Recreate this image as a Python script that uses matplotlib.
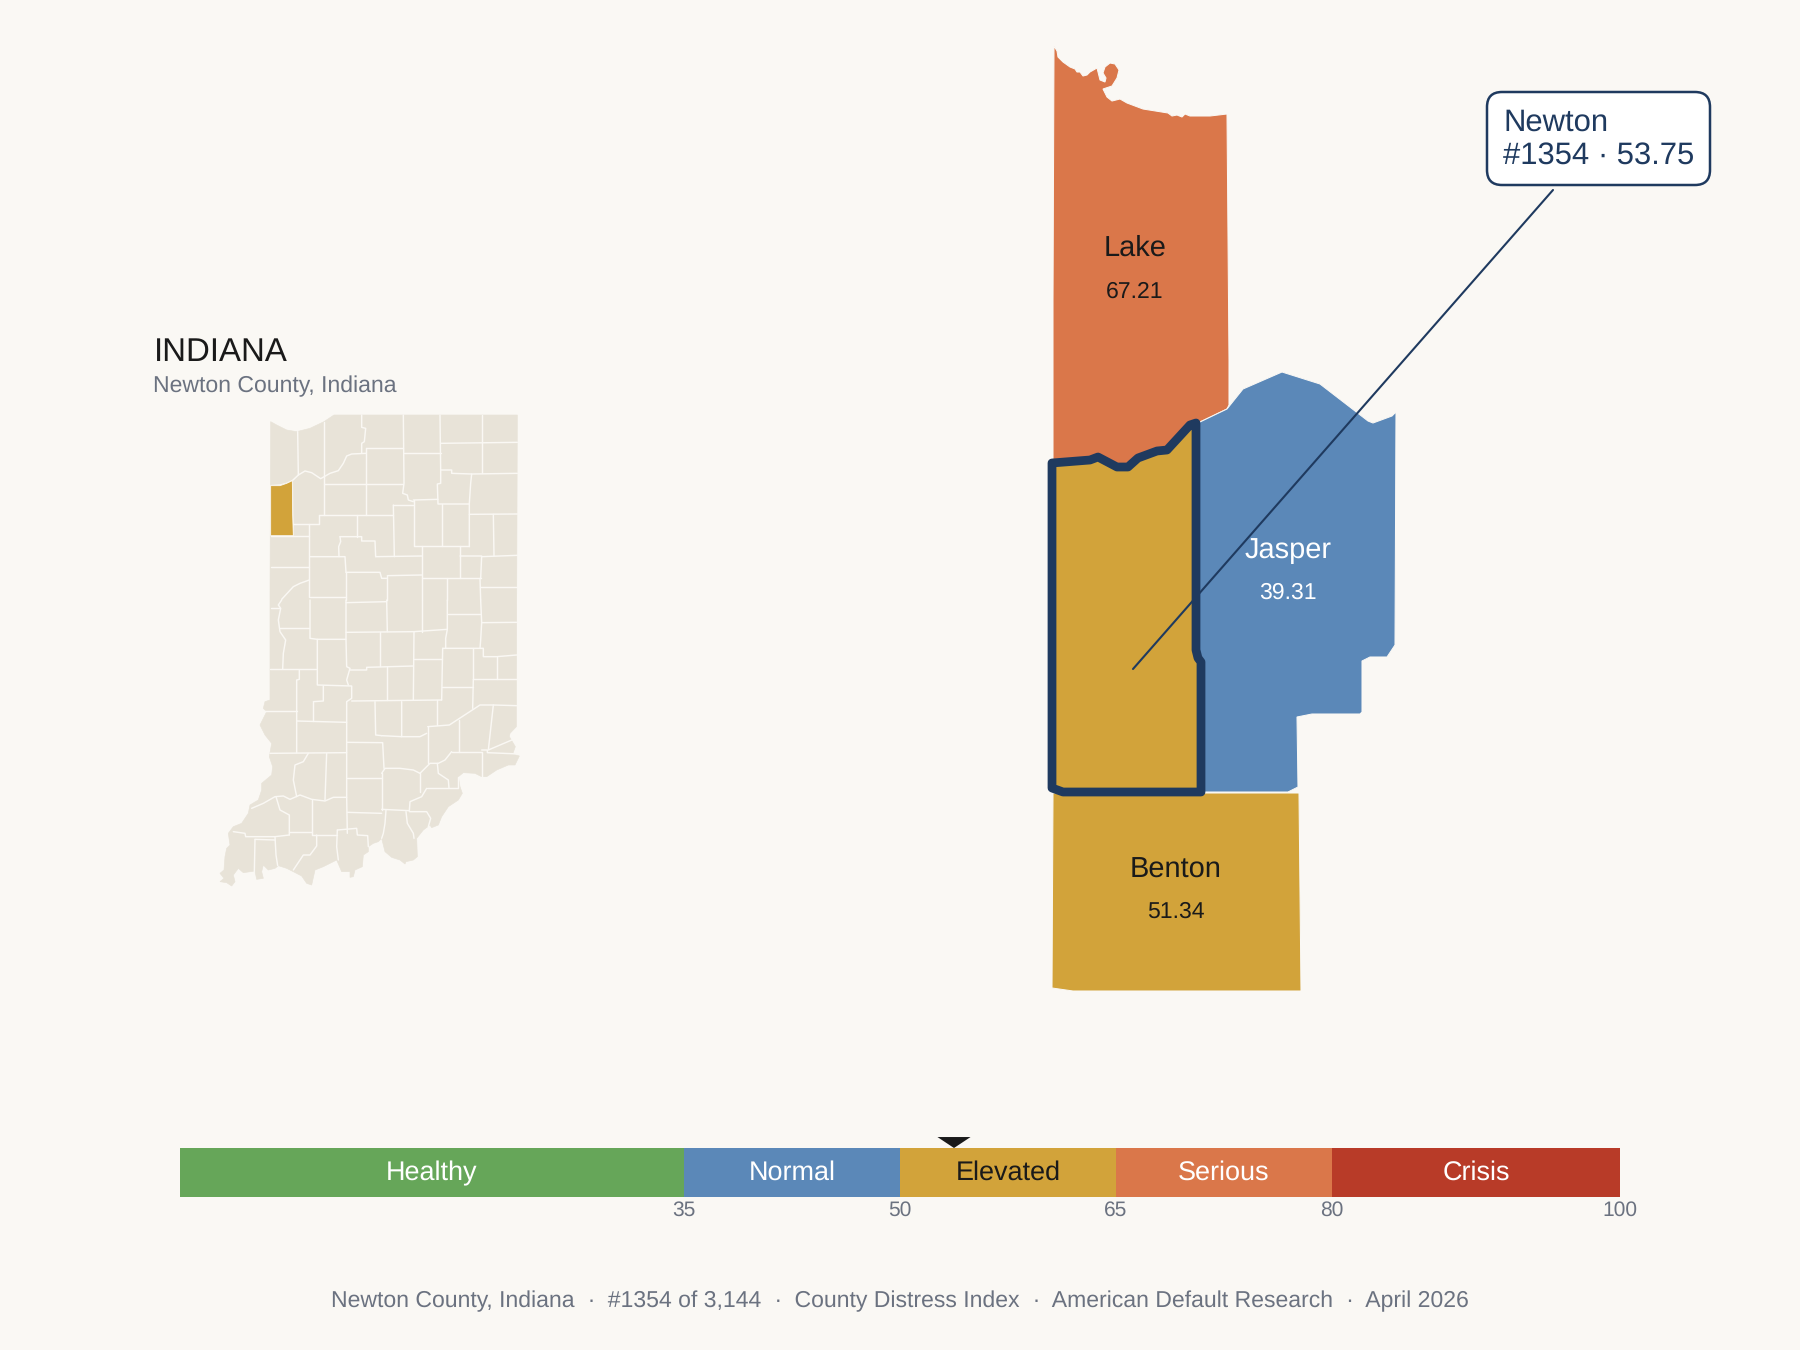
import numpy as np
import matplotlib
matplotlib.use("Agg")
import matplotlib.pyplot as plt
from matplotlib.patches import Polygon, FancyBboxPatch
from matplotlib.collections import LineCollection

plt.rcParams['font.family'] = ['Liberation Sans', 'DejaVu Sans']
plt.rcParams['text.hinting'] = 'none'
plt.rcParams['text.hinting_factor'] = 1

# ---------- colours
BG = '#FAF8F4'
LAND = '#E8E3D8'
GREEN = '#66A659'
BLUE = '#5B88B8'
GOLD = '#D2A33A'
ORANGE = '#DA774A'
RED = '#B83B28'
NAVY = '#1F3A5F'
GRAY = '#6B7280'
INK = '#1A1A1A'

# ---------- data
band_names = ['Healthy', 'Normal', 'Elevated', 'Serious', 'Crisis']
band_edges = [0, 35, 50, 65, 80, 100]
band_colors = [GREEN, BLUE, GOLD, ORANGE, RED]
band_text = ['white', 'white', INK, 'white', 'white']
tick_values = [35, 50, 65, 80, 100]
score_value = 53.75

county_names = ['Lake', 'Jasper', 'Benton']
county_scores = ['67.21', '39.31', '51.34']
county_name_xy = [(1135, 256), (1288, 558), (1176, 878)]
county_value_y = [298, 599, 918]
county_text = [INK, 'white', INK]
callout_lines = ['Newton', '#1354 \u00b7 53.75']
footer_parts = ['Newton County, Indiana', '#1354 of 3,144', 'County Distress Index',
                'American Default Research', 'April 2026']

# ---------- neighbourhood map outlines (image pixels)
newton_shape = [(1052, 463), (1090, 460), (1098, 457), (1117, 467), (1128, 467), (1138, 458),
                (1157, 451), (1167, 450), (1190, 425), (1196, 423), (1196, 650), (1198, 658),
                (1201, 662), (1201, 792), (1063, 792), (1052, 788), (1052, 670)]
lake_shape = [(1053, 470), (1053, 300), (1054, 46), (1057, 51), (1058, 57), (1063, 62), (1070, 67),
              (1075, 69), (1077, 72), (1080, 72), (1083, 76), (1087, 75), (1090, 72), (1097, 68),
              (1098, 72), (1100, 80), (1105, 82), (1106, 78), (1103, 73), (1105, 67), (1110, 63),
              (1115, 64), (1119, 70), (1117, 78), (1112, 86), (1103, 89), (1107, 97), (1112, 101),
              (1120, 99), (1127, 103), (1143, 109), (1168, 113), (1172, 116), (1177, 115),
              (1182, 117), (1185, 114), (1190, 116), (1210, 116), (1227, 114), (1229, 360),
              (1229, 405), (1227, 409), (1200, 422), (1196, 470)]
jasper_shape = [(1196, 424), (1200, 422), (1227, 409), (1243, 389), (1282, 372), (1320, 384),
                (1368, 421), (1373, 423), (1392, 416), (1396, 412), (1395, 645), (1387, 657),
                (1370, 657), (1362, 661), (1362, 712), (1360, 714), (1312, 714), (1297, 717),
                (1298, 787), (1288, 792), (1196, 792)]
benton_shape = [(1053, 793), (1299, 793), (1301, 991), (1073, 991), (1052, 988)]
leader_line = [(1133, 669), (1553, 190)]

# ---------- Indiana locator map: traced in two crops of the picture
state_north = [(422, 305), (440, 315), (470, 330), (500, 335), (540, 325), (582, 305), (612, 285),
               (1162, 285)]
state_south = [(950, 0), (949, 380), (930, 400), (928, 410), (946, 440), (938, 462), (958, 468),
               (945, 495), (925, 495), (890, 510), (860, 530), (845, 530), (825, 520), (790, 518),
               (775, 530), (780, 560), (787, 580), (775, 600), (745, 620), (725, 650), (715, 675),
               (695, 683), (690, 675), (670, 690), (650, 715), (652, 770), (640, 780), (618, 785),
               (615, 792), (600, 780), (575, 772), (555, 755), (545, 715), (535, 725), (520, 730),
               (505, 740), (505, 755), (490, 765), (487, 800), (465, 810), (460, 830), (450, 832),
               (450, 815), (425, 815), (410, 780), (370, 800), (345, 810), (335, 855), (320, 850),
               (305, 828), (280, 815), (260, 805), (235, 797), (225, 805), (205, 810), (190, 795),
               (185, 815), (190, 835), (170, 838), (165, 813), (130, 818), (115, 805), (100, 825),
               (105, 845), (95, 858), (80, 848), (60, 845), (72, 835), (60, 820), (72, 810),
               (75, 770), (80, 745), (90, 735), (85, 700), (100, 680), (125, 670), (145, 640),
               (150, 615), (175, 600), (185, 570), (185, 550), (215, 525), (218, 500), (208, 470),
               (215, 430), (195, 405), (180, 375), (200, 335), (190, 325), (195, 305), (210, 300),
               (210, 0)]
newton_mini = [(422, 497), (450, 497), (470, 490), (487, 482), (488, 585), (490, 647), (422, 647)]

lines_north = [
    [(503, 335), (505, 465)],
    [(583, 305), (583, 585)],
    [(422, 497), (450, 495), (470, 490), (487, 482), (505, 465), (525, 453), (545, 458), (572, 476),
     (600, 460), (625, 452), (640, 430), (650, 408), (665, 402), (708, 400)],
    [(695, 285), (695, 322), (707, 325), (703, 365), (695, 370), (695, 400)],
    [(708, 385), (708, 585)],
    [(708, 385), (820, 385)],
    [(820, 285), (822, 490), (818, 520), (832, 525), (835, 540), (850, 545)],
    [(930, 285), (932, 450)],
    [(932, 370), (1162, 367)],
    [(1057, 285), (1057, 460)],
    [(822, 400), (932, 400)],
    [(932, 450), (965, 450), (965, 460), (1025, 462), (1162, 460)],
    [(1025, 462), (1022, 490), (1018, 550), (1018, 680)],
    [(932, 450), (932, 490), (922, 492), (924, 552), (1018, 552)],
    [(583, 493), (820, 493)],
    [(568, 585), (790, 585)],
    [(790, 555), (793, 710)],
    [(790, 555), (850, 555)],
    [(850, 540), (924, 538)],
    [(853, 540), (853, 678), (1018, 678)],
    [(935, 552), (935, 678)],
    [(487, 482), (488, 585), (490, 647)],
    [(422, 647), (538, 647)],
    [(490, 612), (538, 612), (568, 612), (568, 585)],
    [(538, 612), (538, 830)],
    [(680, 585), (680, 650)],
    [(630, 650), (695, 650), (695, 663), (735, 663), (737, 710)],
    [(630, 650), (632, 665), (626, 680), (627, 710)],
    [(540, 710), (645, 710), (648, 757)],
    [(648, 757), (750, 757), (755, 775), (770, 775)],
    [(737, 710), (875, 708)],
    [(875, 678), (875, 840)],
    [(772, 767), (875, 765)],
    [(772, 767), (772, 840)],
    [(422, 740), (538, 740)],
    [(455, 838), (490, 800), (510, 790), (538, 780)],
    [(1018, 583), (1162, 582)],
    [(1090, 583), (1092, 708)],
    [(990, 678), (990, 775)],
    [(990, 708), (1055, 708), (1052, 775)],
    [(1162, 706), (1055, 710)],
    [(875, 775), (1052, 775)],
    [(952, 775), (952, 840)],
    [(1050, 800), (1162, 800)],
    [(1050, 775), (1052, 840)],
    [(540, 832), (648, 832)],
    [(648, 757), (648, 840)],
]
lines_south = [
    [(245, 0), (235, 15), (242, 25), (235, 60), (240, 95), (257, 120), (250, 160), (248, 208)],
    [(212, 25), (240, 25)],
    [(240, 85), (328, 85)],
    [(330, 0), (330, 115), (352, 118), (438, 118)],
    [(438, 0), (438, 118), (440, 200), (450, 205), (440, 240), (445, 255)],
    [(438, 8), (560, 5)],
    [(560, 0), (562, 95)],
    [(438, 97), (642, 95), (742, 88)],
    [(665, 0), (665, 95)],
    [(742, 0), (742, 88), (737, 115), (737, 145)],
    [(743, 42), (840, 42)],
    [(842, 0), (845, 68), (842, 120), (840, 145)],
    [(845, 68), (950, 67)],
    [(728, 145), (850, 145), (850, 170), (890, 170), (950, 165)],
    [(890, 170), (890, 238)],
    [(820, 145), (820, 238)],
    [(820, 238), (950, 238)],
    [(352, 118), (352, 255), (455, 258), (455, 295), (440, 305)],
    [(450, 210), (500, 210), (500, 202), (640, 198)],
    [(539, 97), (539, 198)],
    [(642, 95), (640, 300)],
    [(642, 178), (725, 178)],
    [(728, 145), (725, 300)],
    [(725, 262), (820, 262)],
    [(560, 200), (560, 300)],
    [(455, 303), (725, 300)],
    [(712, 300), (712, 375)],
    [(820, 238), (818, 325)],
    [(210, 208), (348, 208)],
    [(298, 210), (298, 238), (290, 240), (290, 458)],
    [(340, 305), (370, 303), (370, 258)],
    [(340, 305), (340, 363)],
    [(190, 332), (290, 332)],
    [(290, 363), (440, 367)],
    [(440, 305), (440, 592), (442, 700)],
    [(525, 305), (527, 405), (545, 407)],
    [(605, 305), (605, 410), (660, 410), (680, 400)],
    [(545, 407), (605, 410)],
    [(440, 427), (548, 428), (552, 505)],
    [(442, 535), (545, 535)],
    [(545, 520), (545, 630)],
    [(545, 520), (555, 505), (600, 505), (640, 510), (660, 520)],
    [(660, 520), (660, 575)],
    [(683, 380), (683, 490)],
    [(683, 380), (748, 375), (840, 315), (880, 315), (950, 317)],
    [(778, 360), (778, 455)],
    [(880, 315), (865, 450), (940, 418)],
    [(755, 455), (845, 455), (845, 530)],
    [(845, 450), (862, 450), (862, 458), (958, 462)],
    [(755, 455), (735, 480), (715, 490), (690, 490), (660, 520)],
    [(712, 490), (715, 520), (745, 540), (747, 565)],
    [(680, 565), (775, 565), (775, 530)],
    [(680, 565), (665, 590), (630, 605), (628, 632)],
    [(628, 635), (680, 635), (692, 655), (685, 680)],
    [(545, 628), (628, 632)],
    [(618, 635), (622, 670), (640, 700), (642, 715)],
    [(558, 630), (555, 670), (550, 700), (545, 715)],
    [(442, 637), (545, 640)],
    [(412, 690), (470, 685), (472, 705), (503, 707), (505, 740)],
    [(412, 690), (410, 740), (415, 780)],
    [(335, 600), (335, 705), (410, 705)],
    [(210, 460), (440, 458)],
    [(325, 460), (310, 485), (285, 495), (280, 540), (290, 590)],
    [(380, 460), (375, 600)],
    [(155, 625), (190, 610), (225, 590), (250, 588), (270, 598), (300, 585), (335, 598), (375, 603),
     (400, 592), (440, 592)],
    [(228, 590), (240, 630), (268, 645), (268, 705)],
    [(100, 695), (135, 700), (137, 710), (225, 710), (268, 705)],
    [(268, 697), (335, 697)],
    [(165, 718), (225, 720)],
    [(165, 718), (163, 815)],
    [(225, 710), (228, 765), (233, 797)],
    [(350, 705), (350, 738), (330, 765), (310, 765), (280, 810)],
]


def from_north(pts):
    a = np.asarray(pts, float)
    return np.column_stack([130 + a[:, 0] / 3, 320 + a[:, 1] / 3])


def from_south(pts):
    a = np.asarray(pts, float)
    return np.column_stack([200 + a[:, 0] / 3, 600 + a[:, 1] / 3])


fig = plt.figure(figsize=(12, 9), dpi=150, facecolor=BG)
ax = fig.add_axes([0, 0, 1, 1])
ax.set_xlim(0, 1800)
ax.set_ylim(1350, 0)
ax.axis('off')

# ---------- locator map
state = np.vstack([from_north(state_north), from_south(state_south)])
ax.add_patch(Polygon(state, closed=True, fc=LAND, ec=LAND, lw=0.3, zorder=1))
segs = [from_north(l) for l in lines_north] + [from_south(l) for l in lines_south]
ax.add_collection(LineCollection(segs, colors=BG, linewidths=0.7, zorder=2, capstyle='round'))
ax.add_patch(Polygon(from_north(newton_mini), closed=True, fc=GOLD, ec=BG, lw=0.4, zorder=3))

ax.text(154, 361, 'INDIANA', fontsize=15.7, color=INK, va='baseline', ha='left')
ax.text(153, 392, 'Newton County, Indiana', fontsize=11.1, color=GRAY, va='baseline', ha='left')

# ---------- neighbouring counties
for shape, col in zip([lake_shape, benton_shape, jasper_shape], [ORANGE, GOLD, BLUE]):
    ax.add_patch(Polygon(shape, closed=True, fc=col, ec=BG, lw=0.5, zorder=4))
ax.add_patch(Polygon(newton_shape, closed=True, fc=GOLD, ec=NAVY, lw=4.2, joinstyle='round', zorder=5))

for name, score, (x, y), vy, col in zip(county_names, county_scores, county_name_xy, county_value_y, county_text):
    ax.text(x, y, name, fontsize=14, color=col, ha='center', va='baseline', zorder=7)
    ax.text(x, vy, score, fontsize=11, color=col, ha='center', va='baseline', zorder=7)

# ---------- callout
ax.plot(*zip(*leader_line), color=NAVY, lw=1.0, zorder=6, solid_capstyle='round')
ax.add_patch(FancyBboxPatch((1487 + 15, 92 + 15), 223 - 30, 93 - 30, boxstyle='round,pad=15,rounding_size=15',
                            fc='white', ec=NAVY, lw=1.2, zorder=8))
ax.text(1503, 131, callout_lines[0], fontsize=15, color=NAVY, va='baseline', zorder=9)
ax.text(1503, 164, callout_lines[1], fontsize=15, color=NAVY, va='baseline', zorder=9)

# ---------- footer
ax.text(900, 1307, '  \u00b7  '.join(footer_parts), fontsize=10.97, color=GRAY, ha='center', va='baseline')

# ---------- scale bar, on its own 0-100 axis
bar = fig.add_axes([180 / 1800, 1 - 1197 / 1350, 1440 / 1800, 49 / 1350], facecolor='none')
bar.set_xlim(0, 100)
bar.set_ylim(0, 1)
for i, (name, col, tc) in enumerate(zip(band_names, band_colors, band_text)):
    lo, hi = band_edges[i], band_edges[i + 1]
    bar.barh(0.5, hi - lo, left=lo, height=1, color=col, linewidth=0)
    bar.text((lo + hi) / 2, 0.347, name, fontsize=13, color=tc, ha='center', va='baseline')
bar.fill([score_value - 1.15, score_value + 1.15, score_value], [1.224, 1.224, 1.0],
         color=INK, clip_on=False, linewidth=0)
for s in bar.spines.values():
    s.set_visible(False)
bar.set_yticks([])
bar.set_xticks(tick_values)
bar.set_xticklabels([str(v) for v in tick_values], fontsize=10, color=GRAY)
bar.tick_params(axis='x', length=0, pad=1.5)

fig.savefig('out.png', dpi=150, facecolor=BG)
